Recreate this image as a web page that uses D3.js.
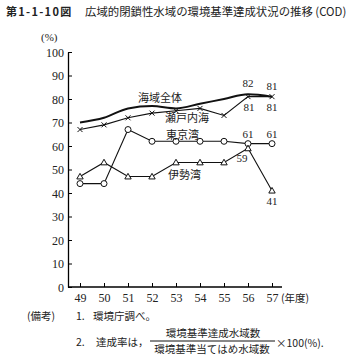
<!DOCTYPE html>
<html>
<head>
<meta charset="utf-8">
<script src="https://cdn.jsdelivr.net/npm/d3@7"></script>
<style>
  body { margin: 0; background: #fff; }
  svg { display: block; }
  text { font-family: "Liberation Serif", "Noto Sans CJK JP", serif; fill: #222; }
  .jp { font-family: "Noto Sans CJK JP", sans-serif; }
</style>
</head>
<body>
<div id="chart"></div>
<script>
// data
let years = ["49", "50", "51", "52", "53", "54", "55", "56", "57"];
let zentai = [70, 72, 76, 77, 76, 78, 80, 82, 81];
let setonaikai = [67, 69, 72, 74, 75, 76, 73, 81, 81];
let tokyowan = [44, 44, 67, 62, 62, 62, 62, 61, 61];
let isewan = [47, 53, 47, 47, 53, 53, 53, 59, 41];
let yTicks = [0, 10, 20, 30, 40, 50, 60, 70, 80, 90, 100];

let width = 354;
let height = 356;

let svg = d3.select("#chart").append("svg")
  .attr("width", width)
  .attr("height", height);

let x = d3.scalePoint().domain(years).range([80, 272]);
let y = d3.scaleLinear().domain([0, 100]).range([287, 52]);

// title
svg.append("text")
  .attr("class", "jp")
  .attr("x", 6).attr("y", 16)
  .attr("font-size", 11)
  .attr("font-weight", "bold")
  .attr("letter-spacing", 1.3)
  .text("第1-1-10図");
svg.append("text")
  .attr("class", "jp")
  .attr("x", 85).attr("y", 16)
  .attr("font-size", 11.4)
  .text("広域的閉鎖性水域の環境基準達成状況の推移 (COD)");

svg.append("text")
  .attr("x", 41).attr("y", 41)
  .attr("font-size", 11)
  .text("(%)");

// y axis
let yAxis = d3.axisRight(y).tickValues(yTicks).tickSize(4).tickSizeOuter(0);
let gy = svg.append("g").attr("transform", "translate(68,0)").call(yAxis);
gy.selectAll(".tick text").remove();
gy.select(".domain").attr("stroke-width", 1.3);
gy.selectAll(".tick").append("text")
  .attr("x", -4).attr("dy", "0.35em")
  .attr("text-anchor", "end")
  .attr("font-size", 12)
  .attr("fill", "#222")
  .text(d => d);

// x axis
let xAxis = d3.axisTop(x).tickSize(4).tickSizeOuter(0);
let gx = svg.append("g").attr("transform", "translate(0,287)").call(xAxis);
gx.select(".domain").attr("d", "M68,0H282").attr("stroke-width", 1.3);
gx.selectAll(".tick text").remove();
gx.selectAll(".tick").append("text")
  .attr("y", 15)
  .attr("text-anchor", "middle")
  .attr("font-size", 12)
  .attr("fill", "#222")
  .text(d => d);
svg.append("text")
  .attr("class", "jp")
  .attr("x", 281).attr("y", 302)
  .attr("font-size", 10.5)
  .text("(年度)");

let line = d3.line()
  .x((d, i) => x(years[i]))
  .y(d => y(d));

// lines
svg.append("path").datum(zentai)
  .attr("d", line.curve(d3.curveMonotoneX)).attr("fill", "none")
  .attr("stroke", "#111").attr("stroke-width", 2);
line.curve(d3.curveLinear);
svg.append("path").datum(setonaikai)
  .attr("d", line).attr("fill", "none")
  .attr("stroke", "#111").attr("stroke-width", 1.1);
svg.append("path").datum(tokyowan)
  .attr("d", line).attr("fill", "none")
  .attr("stroke", "#111").attr("stroke-width", 1.1);
svg.append("path").datum(isewan)
  .attr("d", line).attr("fill", "none")
  .attr("stroke", "#111").attr("stroke-width", 1.1);

// markers
svg.selectAll(".xmark")
  .data(setonaikai)
  .enter()
  .append("path")
  .attr("transform", (d, i) => `translate(${x(years[i])},${y(d)})`)
  .attr("d", "M-2.5,-2.5L2.5,2.5M-2.5,2.5L2.5,-2.5")
  .attr("stroke", "#111").attr("stroke-width", 1);

svg.selectAll(".circ")
  .data(tokyowan)
  .enter()
  .append("circle")
  .attr("cx", (d, i) => x(years[i]))
  .attr("cy", d => y(d))
  .attr("r", 3)
  .attr("fill", "#fff")
  .attr("stroke", "#111").attr("stroke-width", 1);

svg.selectAll(".tri")
  .data(isewan)
  .enter()
  .append("path")
  .attr("transform", (d, i) => `translate(${x(years[i])},${y(d)})`)
  .attr("d", "M0,-3.2L3.2,2.4L-3.2,2.4Z")
  .attr("fill", "#fff")
  .attr("stroke", "#111").attr("stroke-width", 1);

// series labels
let seriesLabels = [
  { text: "海域全体", x: 138, y: 102 },
  { text: "瀬戸内海", x: 165, y: 122 },
  { text: "東京湾", x: 166, y: 139 },
  { text: "伊勢湾", x: 168, y: 179 }
];
svg.selectAll(".slabel")
  .data(seriesLabels)
  .enter()
  .append("text")
  .attr("class", "jp")
  .attr("x", d => d.x).attr("y", d => d.y)
  .attr("font-size", 11)
  .text(d => d.text);

// value labels
let valueLabels = [
  { year: "56", v: zentai[7], dy: -7 },
  { year: "57", v: zentai[8], dy: -7 },
  { year: "56", v: setonaikai[7], dy: 14, dx: 1 },
  { year: "57", v: setonaikai[8], dy: 14 },
  { year: "56", v: tokyowan[7], dy: -6 },
  { year: "57", v: tokyowan[8], dy: -6 },
  { year: "56", v: isewan[7], dy: 14, dx: -6 },
  { year: "57", v: isewan[8], dy: 14 }
];
svg.selectAll(".vlabel")
  .data(valueLabels)
  .enter()
  .append("text")
  .attr("x", d => x(d.year) + (d.dx || 0))
  .attr("y", d => y(d.v) + d.dy)
  .attr("text-anchor", "middle")
  .attr("font-size", 11)
  .text(d => d.v);

// notes
let notes = svg.append("g").attr("class", "jp").attr("font-size", 10.5);
notes.append("text").attr("class", "jp").attr("x", 27).attr("y", 320).text("(備考)");
notes.append("text").attr("class", "jp").attr("x", 76).attr("y", 320).text("1.");
notes.append("text").attr("class", "jp").attr("x", 93).attr("y", 320).text("環境庁調べ。");
notes.append("text").attr("class", "jp").attr("x", 76).attr("y", 346).text("2.");
notes.append("text").attr("class", "jp").attr("x", 96).attr("y", 346).text("達成率は，");
notes.append("text").attr("class", "jp").attr("x", 213).attr("y", 337)
  .attr("text-anchor", "middle").text("環境基準達成水域数");
notes.append("line").attr("x1", 150).attr("x2", 275).attr("y1", 341).attr("y2", 341)
  .attr("stroke", "#111").attr("stroke-width", 1);
notes.append("text").attr("class", "jp").attr("x", 212).attr("y", 353)
  .attr("text-anchor", "middle").text("環境基準当てはめ水域数");
notes.append("text").attr("class", "jp").attr("x", 276).attr("y", 347).text("×100(%).");
</script>
</body>
</html>
